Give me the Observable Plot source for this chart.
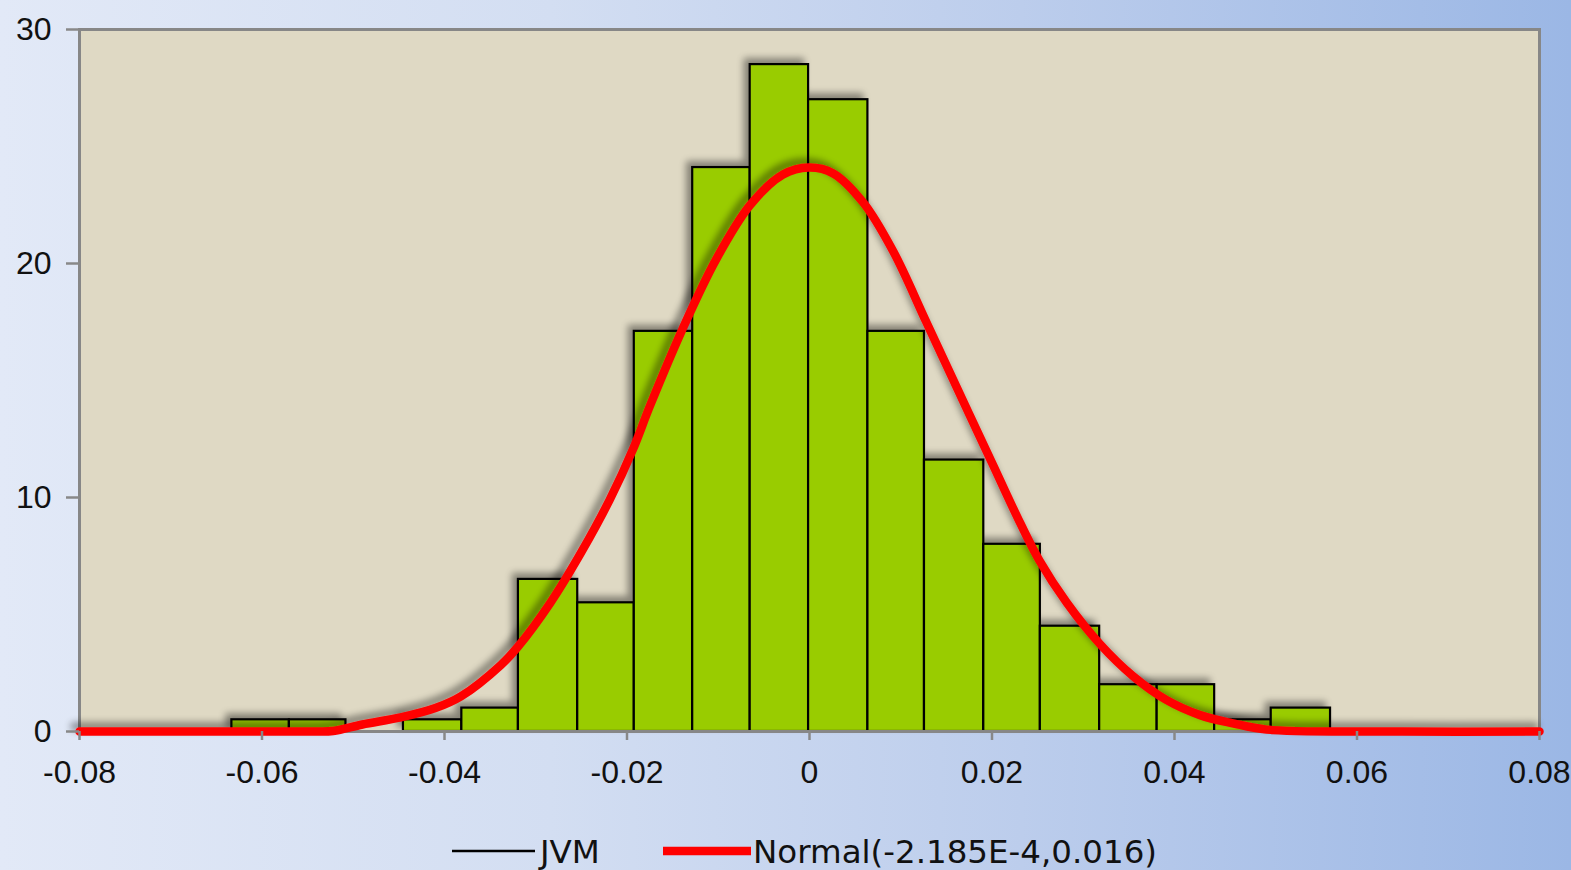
<!DOCTYPE html>
<html>
<head>
<meta charset="utf-8">
<script src="https://cdn.jsdelivr.net/npm/d3@7"></script>
<script src="https://cdn.jsdelivr.net/npm/@observablehq/plot@0.6"></script>
<style>
  html, body { margin: 0; padding: 0; width: 1571px; height: 870px; overflow: hidden; }
  body { background: linear-gradient(to right, #e2e9f7 0%, #d3def2 35%, #bccdec 65%, #9bb7e5 100%); }
  #chart svg, #legend { display: block; }
</style>
</head>
<body>
<div id="chart"></div>
<svg id="legend" width="1571" height="70"></svg>
<script>
// ---- Data ----
const binEdges = [-0.0633, -0.0570, -0.0508, -0.0445, -0.0381, -0.0319, -0.0254, -0.0192, -0.0128, -0.0065,
                  -0.0001, 0.0064, 0.0126, 0.0191, 0.0253, 0.0318, 0.0381, 0.0444, 0.0506, 0.0571];
const barHeights = [0.5, 0.5, 0, 0.5, 1.0, 6.5, 5.5, 17.1, 24.1, 28.5, 27.0, 17.1, 11.6, 8.0, 4.5, 2.0, 2.0, 0.5, 1.0];

const curveX = [-0.08, -0.065, -0.0545, -0.0522, -0.0490, -0.0448, -0.0410, -0.0382, -0.0338, -0.0320, -0.0284, -0.0251,
                -0.0219, -0.0193, -0.0175, -0.0138, -0.0102, -0.0065, -0.0029, -0.0001, 0.0026, 0.0059, 0.0092,
                0.0128, 0.0165, 0.0201, 0.0231, 0.0252, 0.0282, 0.0318, 0.0355, 0.0391, 0.0428, 0.0464, 0.0501,
                0.065, 0.08];
const curveY = [0, 0, 0, 0.02, 0.3, 0.6, 1.0, 1.5, 2.85, 3.6, 5.5, 7.6,
                9.9, 12.1, 13.9, 17.3, 20.2, 22.5, 23.8, 24.1, 23.85, 22.6, 20.5,
                17.5, 14.4, 11.4, 8.9, 7.3, 5.5, 3.75, 2.35, 1.35, 0.7, 0.35, 0.08,
                0, 0];

const xTicks = [-0.08, -0.06, -0.04, -0.02, 0, 0.02, 0.04, 0.06, 0.08];
const xTickLabels = ["-0.08", "-0.06", "-0.04", "-0.02", "0", "0.02", "0.04", "0.06", "0.08"];
const yTicks = [0, 10, 20, 30];
const yTickLabels = ["0", "10", "20", "30"];

const legendLabels = ["JVM", "Normal(-2.185E-4,0.016)"];

// ---- Build tables ----
const bars = barHeights.map((h, i) => ({x1: binEdges[i], x2: binEdges[i + 1], h}));
const curve = curveX.map((x, i) => ({x, y: curveY[i]}));

const chart = Plot.plot({
  width: 1571,
  height: 800,
  marginLeft: 79,
  marginRight: 32,
  marginTop: 29,
  marginBottom: 69,
  style: {background: "transparent", fontFamily: "'Liberation Sans', Arial, sans-serif", fontSize: "32px", color: "#111"},
  x: {domain: [-0.08, 0.08]},
  y: {domain: [0, 30]},
  marks: [
    Plot.frame({fill: "#dfd9c4", stroke: null}),
    Plot.rectY(bars.filter(d => d.h > 0), {x1: "x1", x2: "x2", y1: 0, y2: "h", fill: "#99cc00", stroke: "#000", strokeWidth: 2.2}),
    Plot.frame({stroke: "#878787", strokeWidth: 3}),
    Plot.line(curve, {x: "x", y: "y", stroke: "#ff0000", strokeWidth: 8.5, curve: "catmull-rom"}),
    Plot.axisX({ticks: xTicks, tickFormat: d => xTickLabels[xTicks.indexOf(d)], tickSize: 9, tickPadding: 20,
                stroke: "#888", strokeWidth: 2.5, fill: "#111", label: null, fontSize: 32}),
    Plot.axisY({ticks: yTicks, tickFormat: d => yTickLabels[yTicks.indexOf(d)], tickSize: 13, tickPadding: 15,
                stroke: "#888", strokeWidth: 2.5, fill: "#111", label: null, fontSize: 32})
  ]
});
document.getElementById("chart").appendChild(chart);

// soft drop shadow, as in the original
const ns = "http://www.w3.org/2000/svg";
const defs = document.createElementNS(ns, "defs");
defs.innerHTML = `<filter id="sh" x="-5%" y="-5%" width="110%" height="110%">
  <feGaussianBlur in="SourceAlpha" stdDeviation="3.5"/>
  <feOffset dx="-5" dy="-5" result="o"/>
  <feComponentTransfer><feFuncA type="linear" slope="0.4"/></feComponentTransfer>
  <feMerge><feMergeNode/><feMergeNode in="SourceGraphic"/></feMerge></filter>`;
chart.insertBefore(defs, chart.firstChild);
const rg = chart.querySelector('g[aria-label="rect"]');
if (rg) rg.setAttribute("filter", "url(#sh)");
const lg = chart.querySelector('g[aria-label="line"]');
if (lg) lg.setAttribute("filter", "url(#sh)");

// legend below the chart
const leg = d3.select("#legend");
leg.append("line").attr("x1", 452).attr("x2", 535).attr("y1", 51).attr("y2", 51).attr("stroke", "#000").attr("stroke-width", 2.5);
leg.append("text").attr("x", 540).attr("y", 63).text(legendLabels[0])
  .attr("font-family", "'DejaVu Sans', sans-serif").attr("font-size", 32.5).attr("fill", "#111");
leg.append("line").attr("x1", 663).attr("x2", 751).attr("y1", 51).attr("y2", 51).attr("stroke", "#ff0000").attr("stroke-width", 8.7);
leg.append("text").attr("x", 753).attr("y", 63).text(legendLabels[1])
  .attr("font-family", "'DejaVu Sans', sans-serif").attr("font-size", 32.5).attr("fill", "#111");
</script>
</body>
</html>
